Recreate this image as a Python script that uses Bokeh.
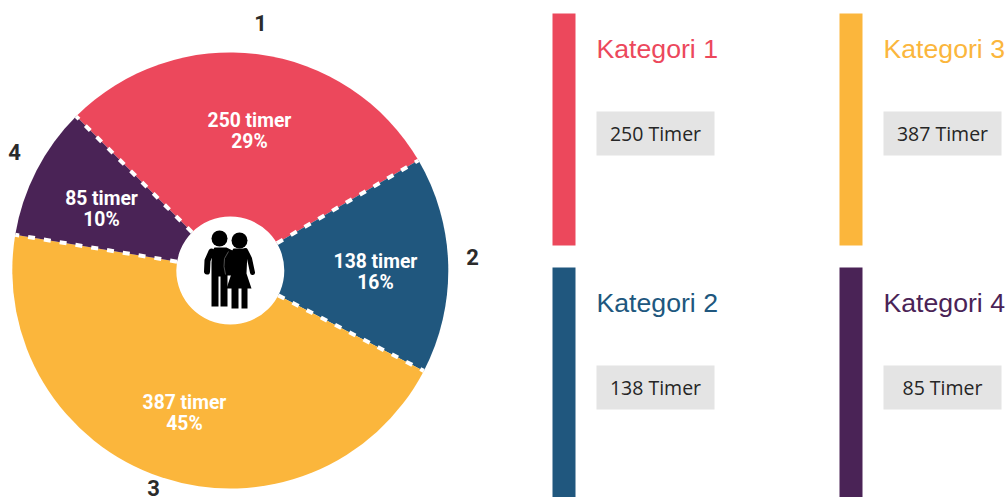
from math import cos, sin, radians
from bokeh.plotting import figure
from bokeh.models import Range1d
from bokeh.core.properties import value
from bokeh.embed import file_html
from bokeh.resources import INLINE

# ---- data ----
slice_ids = ["1", "2", "3", "4"]
categories = ["Kategori 1", "Kategori 2", "Kategori 3", "Kategori 4"]
hours = [250, 138, 387, 85]
percents = [29, 16, 45, 10]
colors = ["#EC485C", "#20577E", "#FBB63C", "#4A2356"]

# ---- layout (pixels in the page, y measured downward) ----
W, H = 1007, 497
CX, CY, R, HOLE = 229.8, 270, 218, 54
START = -45
label_xy = [(249, 130), (375, 271), (184, 412), (101, 208)]
id_xy = [(260, 22), (472, 256), (153, 487), (14, 151)]
card_x = [552, 552, 839, 839]
card_y = [13, 267, 13, 267]
BAR_W, BAR_H = 23, 232


def Y(v):
    return H - v


p = figure(width=W, height=H, x_range=Range1d(0, W), y_range=Range1d(0, H),
           output_backend="svg", toolbar_location=None, min_border=0,
           margin=(0, 0, 0, 0), outline_line_color=None,
           background_fill_color="white", border_fill_color="white")
p.axis.visible = False
p.grid.visible = False

# ---- pie ----
total = sum(hours)
angles = [START]
for h in hours:
    angles.append(angles[-1] + h / total * 360)
for i, h in enumerate(hours):
    p.wedge(x=[CX], y=[Y(CY)], radius=R,
            start_angle=[radians(90 - angles[i])], end_angle=[radians(90 - angles[i + 1])],
            direction="clock", fill_color=colors[i], line_color=None)
for a in angles[:-1]:
    s, c = sin(radians(a)), cos(radians(a))
    p.line([CX + HOLE * s, CX + R * s], [Y(CY) + HOLE * c, Y(CY) + R * c],
           line_color="white", line_width=4, line_dash="7 9")
p.scatter(x=[CX], y=[Y(CY)], size=2 * HOLE, marker="circle", fill_color="white", line_color=None)

# ---- icon: two people ----
INK = "black"
p.scatter(x=[219, 239], y=[Y(238), Y(240)], size=16, marker="circle", fill_color=INK, line_color=None)
# man
p.patch([212, 214, 226, 232, 232, 227, 227, 220, 220, 218, 218, 211, 211],
        [Y(v) for v in (250, 247, 247, 250, 275, 275, 306, 306, 276, 276, 306, 306, 262)],
        fill_color=INK, line_color=None)
p.line([211, 207, 206.5], [Y(251), Y(260), Y(271)], line_color=INK, line_width=6, line_cap="round", line_join="round")
# woman
p.patch([231, 233, 245, 247, 246, 251, 226, 231],
        [Y(v) for v in (251, 248, 248, 251, 273, 288, 288, 273)],
        fill_color=INK, line_color=None)
p.line([228, 224, 223.5, 225], [Y(251), Y(258), Y(266), Y(274)], line_color="#666666", line_width=0.8)
p.quad(left=[231, 241], right=[238, 247], top=[Y(287)] * 2, bottom=[Y(308)] * 2, fill_color=INK, line_color=None)
p.line([245, 249, 252], [Y(250), Y(258), Y(272)], line_color=INK, line_width=5, line_cap="round", line_join="round")

# ---- pie labels ----
for i, h in enumerate(hours):
    x, y = label_xy[i]
    p.text(x=[x], y=[Y(y - 10.5)], text=[f"{h} timer"], text_font=value("Roboto"),
           text_font_style="bold", text_font_size="19.3px", text_color="white",
           text_align="center", text_baseline="middle")
    p.text(x=[x], y=[Y(y + 11)], text=[f"{percents[i]}%"], text_font=value("Roboto"),
           text_font_style="bold", text_font_size="19.3px", text_color="white",
           text_align="center", text_baseline="middle")
    p.text(x=[id_xy[i][0]], y=[Y(id_xy[i][1])], text=[slice_ids[i]], text_font=value("Roboto"),
           text_font_style="bold", text_font_size="22px", text_color="#2b2b2b",
           text_align="center", text_baseline="middle")

# ---- cards ----
for i, cat in enumerate(categories):
    x, y = card_x[i], card_y[i]
    p.quad(left=[x], right=[x + BAR_W], top=[Y(y)], bottom=[Y(y + BAR_H)],
           fill_color=colors[i], line_color=None)
    p.text(x=[x + 44], y=[Y(y + 35)], text=[cat], text_font=value("Liberation Sans"),
           text_font_size="26.67px", text_color=colors[i], text_align="left", text_baseline="middle")
    p.quad(left=[x + 44], right=[x + 162], top=[Y(y + 98)], bottom=[Y(y + 142)],
           fill_color="#E4E4E4", line_color=None)
    p.text(x=[x + 103], y=[Y(y + 120)], text=[f"{hours[i]} Timer"], text_font=value("Open Sans"),
           text_font_size="19.5px", text_color="#262626", text_align="center", text_baseline="middle")

open("out.html", "w").write(file_html(p, INLINE))
